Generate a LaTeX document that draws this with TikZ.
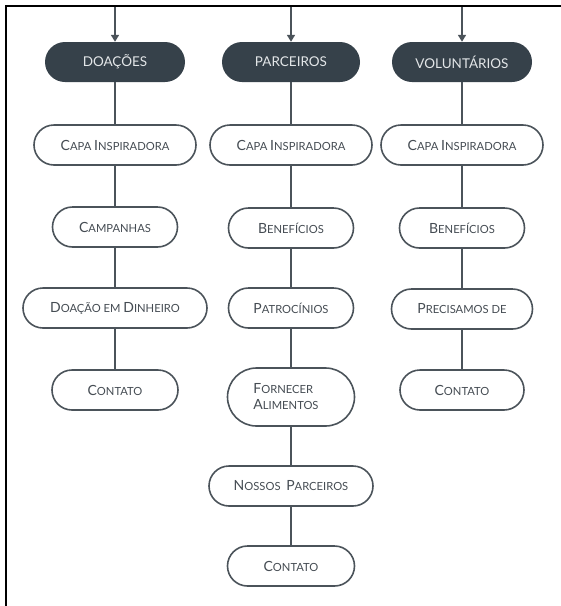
\documentclass[tikz,border=0pt]{standalone}
\usepackage{fontspec}
\setmainfont{Lato}
\usetikzlibrary{shapes.misc,arrows.meta}
\definecolor{slate}{HTML}{36414A}
\definecolor{edge}{HTML}{4B535A}
\definecolor{ink}{HTML}{454C53}
\definecolor{pale}{HTML}{E3E6E8}
% first letter of a small-caps word
\newcommand\Lg[1]{{\fontsize{14}{14}\selectfont #1}}
\tikzset{
  pill/.style={rounded rectangle, draw=edge, line width=1.6pt, fill=white,
    text=ink, inner sep=0pt, minimum height=40pt,
    font=\fontsize{11.2}{13}\selectfont},
  head/.style={rounded rectangle, fill=slate, text=pale, inner sep=0pt,
    minimum height=40pt, minimum width=140pt, font=\fontsize{13.5}{15}\selectfont},
  link/.style={draw=edge, line width=1.6pt},
  feed/.style={draw=edge, line width=1.6pt, -{Triangle[width=8pt,length=7pt]}},
  frame/.style={draw=black, line width=2.5pt}
}
\begin{document}
\begin{tikzpicture}[x=1pt,y=-1pt]
\useasboundingbox (0,0) rectangle (561,606);
% outer frame: top and left edges only
\draw[frame] (6,606) -- (6,6) -- (561,6);

% column heads
\node[head] (hd) at (115,62) {DOAÇÕES};
\node[head, minimum width=138pt] (hp) at (291,62) {PARCEIROS};
\node[head] (hv) at (462,62) {VOLUNTÁRIOS};

\coordinate (td) at (115,7);
\coordinate (tp) at (291,7);
\coordinate (tv) at (462,7);
\draw[feed] (td) -- (hd);
\draw[feed] (tp) -- (hp);
\draw[feed] (tv) -- (hv);

% Doações
\node[pill, minimum width=162pt] (d1) at (115,145) {\Lg{C}APA \Lg{I}NSPIRADORA};
\node[pill, minimum width=125pt] (d2) at (115,227) {\Lg{C}AMPANHAS};
\node[pill, minimum width=184pt] (d3) at (115,308) {\Lg{D}OAÇÃO EM \Lg{D}INHEIRO};
\node[pill, minimum width=126pt] (d4) at (115,390) {\Lg{C}ONTATO};

% Parceiros
\node[pill, minimum width=162pt] (p1) at (291,145) {\Lg{C}APA \Lg{I}NSPIRADORA};
\node[pill, minimum width=125pt] (p2) at (291,228) {\Lg{B}ENEFÍCIOS};
\node[pill, minimum width=125pt] (p3) at (291,308) {\Lg{P}ATROCÍNIOS};
\node[pill, minimum width=127pt, minimum height=58pt, align=left,
  font=\fontsize{11.2}{16}\selectfont] (p4) at (291,397)
  {\Lg{F}ORNECER\\\Lg{A}LIMENTOS\hspace*{10pt}};
\node[pill, minimum width=164pt] (p5) at (291,486) {\Lg{N}OSSOS\ \ \Lg{P}ARCEIROS};
\node[pill, minimum width=127pt] (p6) at (291,566) {\Lg{C}ONTATO};

% Voluntários
\node[pill, minimum width=162pt] (v1) at (462,145) {\Lg{C}APA \Lg{I}NSPIRADORA};
\node[pill, minimum width=125pt] (v2) at (462,228) {\Lg{B}ENEFÍCIOS};
\node[pill, minimum width=141pt] (v3) at (462,309) {\Lg{P}RECISAMOS DE};
\node[pill, minimum width=124pt] (v4) at (462,390) {\Lg{C}ONTATO};

% vertical links
\draw[link] (hd) -- (d1) (d1) -- (d2) (d2) -- (d3) (d3) -- (d4);
\draw[link] (hp) -- (p1) (p1) -- (p2) (p2) -- (p3) (p3) -- (p4) (p4) -- (p5) (p5) -- (p6);
\draw[link] (hv) -- (v1) (v1) -- (v2) (v2) -- (v3) (v3) -- (v4);
\end{tikzpicture}
\end{document}
